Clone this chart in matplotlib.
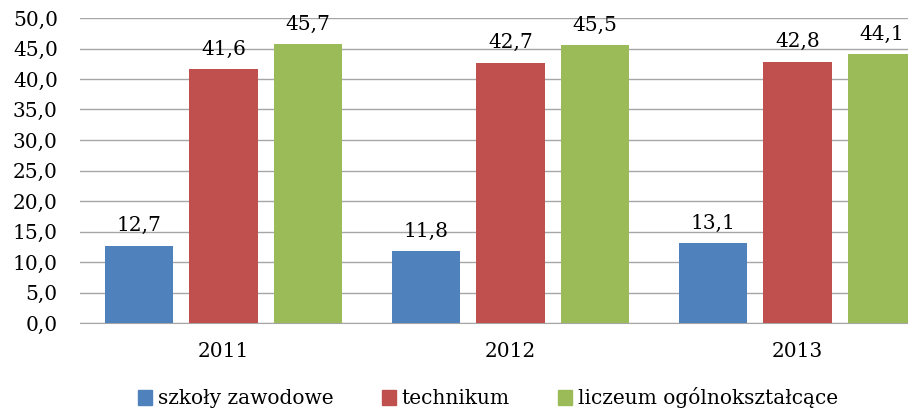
import matplotlib.pyplot as plt
import numpy as np
from matplotlib.patches import Patch

# Data
years = ['2011', '2012', '2013']
series = ['szkoły zawodowe', 'technikum', 'liczeum ogólnokształcące']
zawodowe = [12.7, 11.8, 13.1]
technikum = [41.6, 42.7, 42.8]
liceum = [45.7, 45.5, 44.1]
colors = ['#4F81BD', '#C0504D', '#9BBB59']

plt.rcParams['font.family'] = ['DejaVu Serif']
fs = 14.5

fig = plt.figure(figsize=(9.08, 4.09), dpi=100)
# plot area runs past the right edge, as in the cropped original
ax = fig.add_axes([80 / 908, 1 - 323 / 409, 861 / 908, 305 / 409])

x = np.arange(len(years))
width = 0.237
step = 0.293
for i, (vals, c) in enumerate(zip([zawodowe, technikum, liceum], colors)):
    bars = ax.bar(x + (i - 1) * step, vals, width, color=c, zorder=3)
    for b, v in zip(bars, vals):
        ax.annotate(f'{v:.1f}'.replace('.', ','),
                    (b.get_x() + b.get_width() / 2, v),
                    xytext=(0, 10.5), textcoords='offset points',
                    ha='center', va='baseline', fontsize=fs)

ax.set_xlim(-0.5, 2.5)
ax.set_ylim(0, 50)
ax.set_yticks(np.arange(0, 51, 5))
ax.set_yticklabels([f'{t:.1f}'.replace('.', ',') for t in np.arange(0, 51, 5)])
ax.set_xticks(x)
ax.set_xticklabels(years)
ax.tick_params(axis='both', length=0, labelsize=fs)
ax.tick_params(axis='y', pad=16)
ax.tick_params(axis='x', pad=14)
ax.grid(axis='y', color='#A6A6A6', linewidth=1, zorder=0)
for s in ['top', 'right', 'left']:
    ax.spines[s].set_visible(False)
ax.spines['bottom'].set_color('#A6A6A6')

handles = [Patch(color=c) for c in colors]
fig.legend(handles, series, loc='center', bbox_to_anchor=(488 / 908, 1 - 398 / 409),
           ncol=3, frameon=False, fontsize=fs, handlelength=0.7,
           handleheight=0.7, handletextpad=0.3, columnspacing=2.4)

fig.savefig('out.png', dpi=100)
